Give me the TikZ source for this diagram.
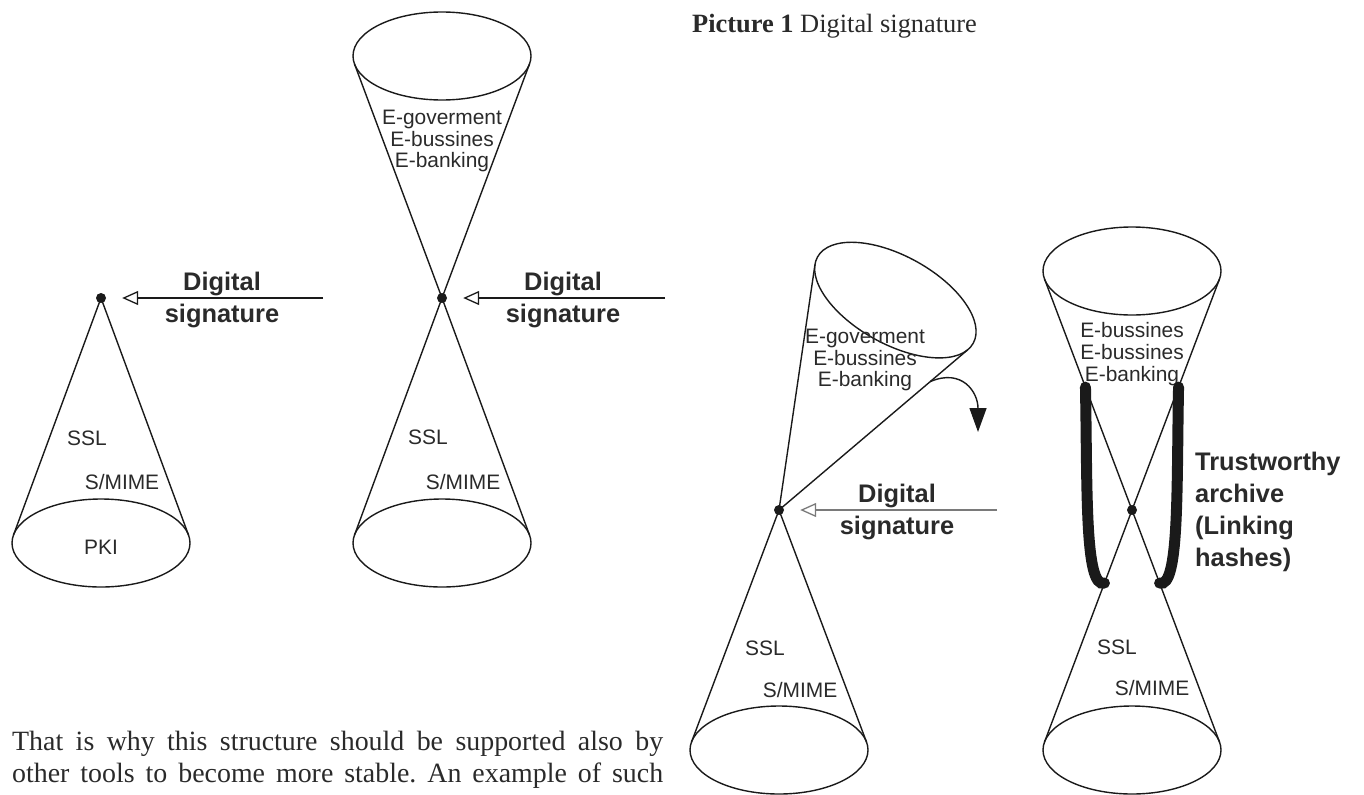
\documentclass[tikz,border=0pt]{standalone}
\usepackage{fontspec}
\setmainfont{Liberation Serif}
\newfontfamily\sansf{Liberation Sans}
\usetikzlibrary{arrows.meta,calc}
\definecolor{ink}{HTML}{1A1A1A}
\definecolor{txt}{HTML}{2A2A2A}
\definecolor{greyline}{HTML}{7A7A7A}
\frenchspacing

% upper cone: apex node, rotation, distance apex->rim, name prefix
\newcommand\uppercone[4]{%
  \begin{scope}[shift={(#1)}, rotate=#2]
    \draw[coneline] (0,-#3) ellipse [x radius=89bp, y radius=44bp];
    \coordinate (#4l) at (-87.5,{-#3+8});
    \coordinate (#4r) at (87.5,{-#3+8});
  \end{scope}
  \draw[coneline] (#4l) -- (#1.center) -- (#4r);
}
% lower cone: apex node, distance apex->rim, name prefix
\newcommand\lowercone[3]{%
  \begin{scope}[shift={(#1)}]
    \draw[coneline] (0,#2) ellipse [x radius=89bp, y radius=44bp];
    \coordinate (#3l) at (-87.5,{#2-8});
    \coordinate (#3r) at (87.5,{#2-8});
  \end{scope}
  \draw[coneline] (#3l) -- (#1.center) -- (#3r);
}

\begin{document}
\begin{tikzpicture}[x=1bp,y=-1bp,
  coneline/.style={line width=1.4bp, draw=ink},
  apex/.style={circle, fill=ink, inner sep=0pt, minimum size=10bp},
  sigarrow/.style={line width=1.4bp, draw=ink,
    -{Triangle[open,length=16bp,width=14bp,line width=1.3bp]}, shorten >=16bp},
  layer/.style={font=\sansf\fontsize{21}{22}\selectfont, text=txt, align=center, inner sep=0pt},
  siglabel/.style={font=\sansf\bfseries\fontsize{25.5}{32}\selectfont, text=txt, align=center, inner sep=0pt},
  hashloop/.style={line width=11bp, line cap=round, draw=ink},
  prose/.style={font=\fontsize{28}{32}\selectfont, text=txt, inner sep=0pt, anchor=base west},
]
\useasboundingbox (0,0) rectangle (1364,794);

% apex points of the four cones
\node[apex] (apex1) at (101,298) {};
\node[apex] (apex2) at (442,298) {};
\node[apex] (apex3) at (779,510) {};
\node[apex] (apex4) at (1132,510) {};

% cone 1: PKI base only
\lowercone{apex1}{245}{b1}
\node[layer] (ssl1) at (87,438) {SSL};
\node[layer] (smime1) at (122,482) {S/MIME};
\node[layer] (pki) at (101,547) {PKI};

% cone 2: hourglass
\uppercone{apex2}{0}{242}{t2}
\lowercone{apex2}{245}{b2}
\node[layer] (apps2) at (442,141) {E-goverment\\E-bussines\\E-banking};
\node[layer] (ssl2) at (428,437) {SSL};
\node[layer] (smime2) at (463,482) {S/MIME};

% cone 3: upper cone tilted away
\uppercone{apex3}{-29}{240}{t3}
\lowercone{apex3}{240}{b3}
\node[layer] (apps3) at (865,360) {E-goverment\\E-bussines\\E-banking};
\node[layer] (ssl3) at (765,648) {SSL};
\node[layer] (smime3) at (800,690) {S/MIME};
\coordinate (tilt0) at ($(apex3)!0.80!(t3r)$);
\coordinate (tilt1) at (978,432);
\draw[line width=1.4bp, draw=ink, -{Triangle[length=24bp,width=17bp]}]
  (tilt0) .. controls (962,368) and (978,392) .. (tilt1);

% cone 4: hourglass held by the archive
\uppercone{apex4}{0}{239}{t4}
\lowercone{apex4}{240}{b4}
\node[layer] (apps4) at (1132,354) {E-bussines\\E-bussines\\E-banking};
\node[layer] (ssl4) at (1117,647) {SSL};
\node[layer] (smime4) at (1152,688) {S/MIME};
\coordinate (hl0) at ($(apex4)!0.532!(t4l)$);
\coordinate (hl1) at ($(apex4)!0.315!(b4l)$);
\coordinate (hr0) at ($(apex4)!0.532!(t4r)$);
\coordinate (hr1) at ($(apex4)!0.315!(b4r)$);
\draw[hashloop] (hl0) .. controls ($(hl0)+(2,100)$) and ($(hl1)+(-20,6)$) .. (hl1);
\draw[hashloop] (hr0) .. controls ($(hr0)+(-2,100)$) and ($(hr1)+(20,6)$) .. (hr1);
\node[siglabel, align=left, anchor=north west] (archive) at (1195,452)
  {Trustworthy\\archive\\(Linking\\hashes)};

% digital signature arrows
\coordinate (sig1) at (323,298);
\coordinate (sig2) at (665,298);
\coordinate (sig3) at (997,510);
\draw[sigarrow] (sig1) -- (apex1);
\draw[sigarrow] (sig2) -- (apex2);
\draw[sigarrow, draw=greyline] (sig3) -- (apex3);
\node[siglabel] (lab1) at (222,300) {Digital\\signature};
\node[siglabel] (lab2) at (563,300) {Digital\\signature};
\node[siglabel] (lab3) at (897,512) {Digital\\signature};

% caption and running text
\node[anchor=base west, inner sep=0pt, text=txt, font=\fontsize{26.5}{30}\selectfont]
  (caption) at (692,33) {\textbf{Picture 1} Digital signature};
\node[prose] (line1) at (12,750)
  {\makebox[651bp][s]{That is why this structure should be supported also by}};
\node[prose] (line2) at (12,782)
  {\makebox[651bp][s]{other tools to become more stable. An example of such}};
\end{tikzpicture}
\end{document}
